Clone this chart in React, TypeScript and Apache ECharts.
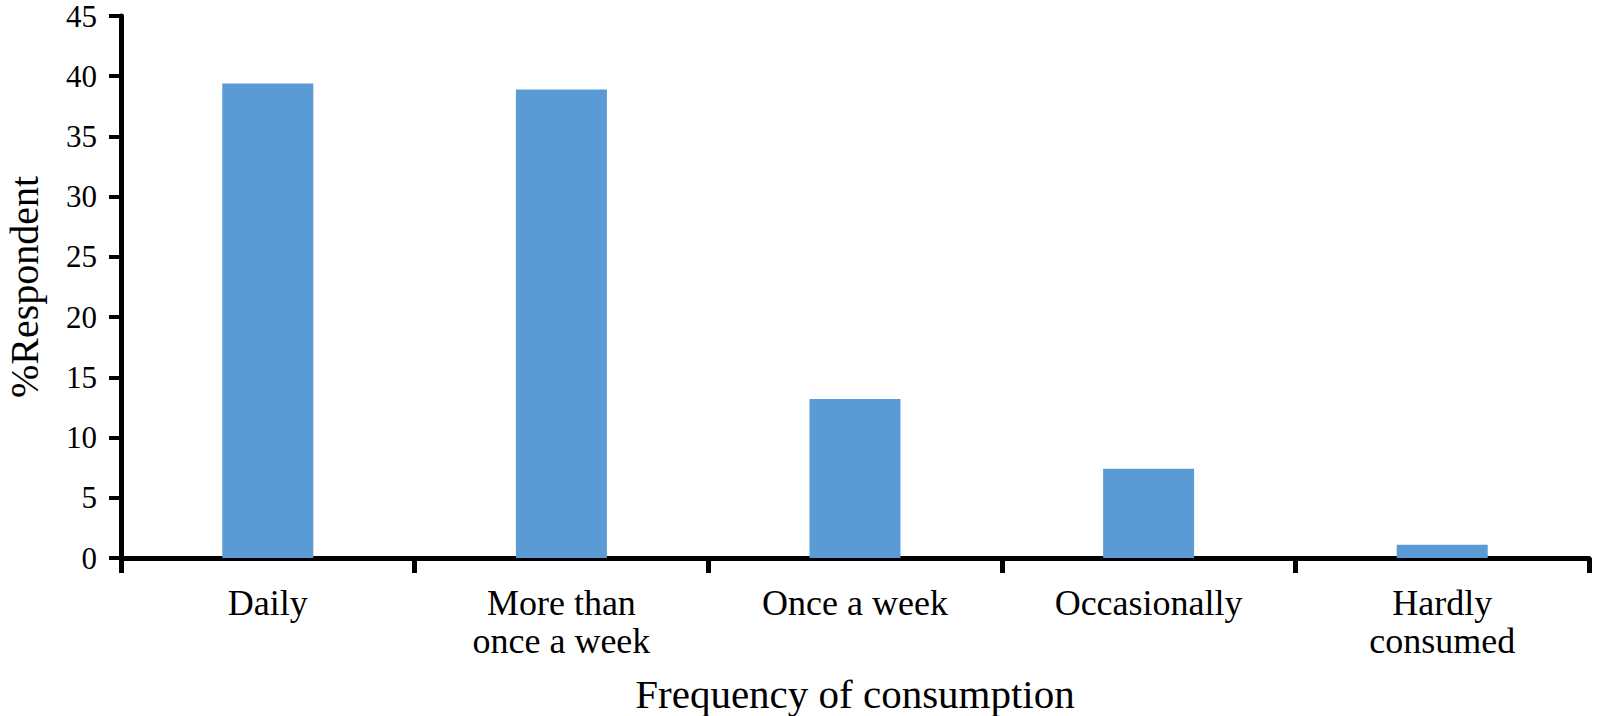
import React, { useEffect, useRef } from "react";
import * as echarts from "echarts";

const categories = ["Daily", "More than\nonce a week", "Once a week", "Occasionally", "Hardly\nconsumed"];
const respondentPct = [39.4, 38.9, 13.2, 7.4, 1.1];
const yTicks = { min: 0, max: 45, interval: 5 };

const FONT = "'Liberation Serif', 'DejaVu Serif', serif";

export default function App() {
  const ref = useRef<HTMLDivElement>(null);
  useEffect(() => {
    document.body.style.margin = "0";
    const chart = echarts.init(ref.current!, undefined, { renderer: "svg" });
    chart.setOption({
      animation: false,
      backgroundColor: "#ffffff",
      grid: { left: 121, right: 11, top: 16, bottom: 158, containLabel: false, outerBoundsMode: "none" },
      xAxis: {
        type: "category",
        data: categories,
        name: "Frequency of consumption",
        nameLocation: "middle",
        nameGap: 114,
        nameTextStyle: { fontFamily: FONT, fontSize: 41, color: "#000", lineHeight: 44 },
        axisLine: { lineStyle: { color: "#000", width: 5 } },
        axisTick: { show: true, length: 15, lineStyle: { color: "#000", width: 5 } },
        axisLabel: {
          fontFamily: FONT,
          fontSize: 36,
          color: "#000",
          margin: 26,
          lineHeight: 38,
          interval: 0,
        },
      },
      yAxis: {
        type: "value",
        min: yTicks.min,
        max: yTicks.max,
        interval: yTicks.interval,
        name: "%Respondent",
        nameLocation: "middle",
        nameGap: 77,
        nameTextStyle: { fontFamily: FONT, fontSize: 40, color: "#000", lineHeight: 40 },
        axisLine: { show: true, lineStyle: { color: "#000", width: 5 } },
        axisTick: { show: true, length: 12, lineStyle: { color: "#000", width: 4 } },
        axisLabel: { fontFamily: FONT, fontSize: 31, color: "#000", margin: 24, lineHeight: 24 },
        splitLine: { show: false },
      },
      series: [
        {
          type: "bar",
          data: respondentPct,
          barWidth: "31%",
          itemStyle: { color: "#5B9BD5" },
        },
      ],
    });
    return () => chart.dispose();
  }, []);
  return <div ref={ref} style={{ width: 1600, height: 716 }} />;
}
